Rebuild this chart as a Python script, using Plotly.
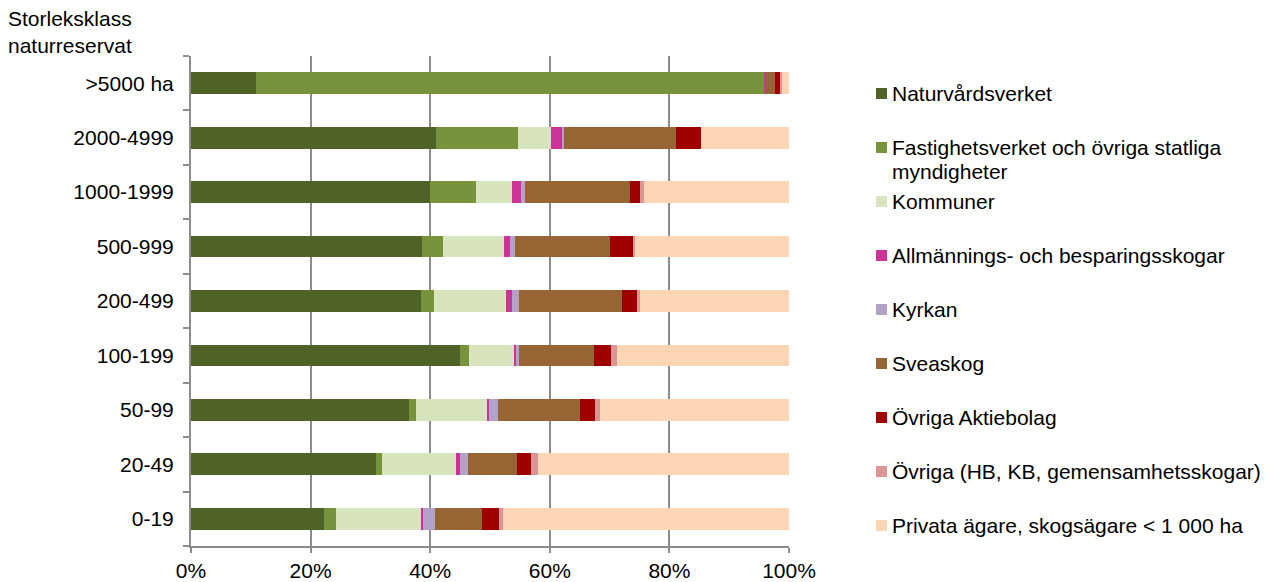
import plotly.graph_objects as go

categories = ["0-19", "20-49", "50-99", "100-199", "200-499", "500-999",
              "1000-1999", "2000-4999", ">5000 ha"]

series_names = [
    "Naturvårdsverket",
    "Fastighetsverket och övriga statliga<br>myndigheter",
    "Kommuner",
    "Allmännings- och besparingsskogar",
    "Kyrkan",
    "Sveaskog",
    "Övriga Aktiebolag",
    "Övriga (HB, KB, gemensamhetsskogar)",
    "Privata ägare, skogsägare < 1 000 ha",
]

naturvardsverket = [22.3, 30.9, 36.4, 44.9, 38.4, 38.6, 39.9, 40.9, 10.8]
fastighetsverket = [2.0, 1.1, 1.2, 1.6, 2.2, 3.6, 7.7, 13.8, 85.1]
kommuner = [14.1, 12.3, 12.0, 7.6, 12.1, 10.1, 6.1, 5.5, 0.0]
allmannings = [0.4, 0.6, 0.2, 0.2, 1.0, 1.0, 1.4, 1.9, 0.3]
kyrkan = [2.0, 1.4, 1.5, 0.6, 1.2, 0.8, 0.7, 0.2, 0.0]
sveaskog = [7.9, 8.2, 13.8, 12.5, 17.2, 15.9, 17.6, 18.8, 1.4]
ovriga_ab = [2.8, 2.4, 2.4, 2.9, 2.5, 3.9, 1.7, 4.2, 0.9]
ovriga_hb = [0.6, 1.1, 0.9, 0.9, 0.4, 0.4, 0.6, 0.0, 0.3]
privata = [47.9, 42.0, 31.6, 28.8, 25.0, 25.7, 24.3, 14.7, 1.2]

series_values = [naturvardsverket, fastighetsverket, kommuner, allmannings, kyrkan,
                 sveaskog, ovriga_ab, ovriga_hb, privata]

colors = ["#4F6228", "#77933C", "#D7E4BD", "#CC3399", "#B3A2C7",
          "#976433", "#9E0000", "#D99694", "#FCD5B5"]

x_tickvals = [0, 20, 40, 60, 80, 100]
x_ticktext = ["0%", "20%", "40%", "60%", "80%", "100%"]

FONT = "Arial, Liberation Sans, sans-serif"
OFF = 8  # page body margin
W, H = 1283 - OFF, 582 - OFF
L, R, T, B = 191 - OFF, 789 - OFF, 56 - OFF, 546 - OFF

fig = go.Figure()
for name, vals, col in zip(series_names, series_values, colors):
    fig.add_trace(go.Bar(
        y=categories, x=vals, name=name, orientation="h",
        marker=dict(color=col, line=dict(width=0)),
        showlegend=False,
    ))

def px_x(p):
    return (p - OFF - L) / (R - L)

def px_y(p):
    return (B - (p - OFF)) / (B - T)

# manual legend (page pixel positions)
leg_y0 = 93.5
leg_step = 54.0
line_h = 24.5
for i, (name, col) in enumerate(zip(series_names, colors)):
    cy = leg_y0 + i * leg_step
    fig.add_shape(type="rect", xref="paper", yref="paper",
                  x0=px_x(876), x1=px_x(887), y0=px_y(cy + 5.5), y1=px_y(cy - 5.5),
                  fillcolor=col, line=dict(width=0))
    for j, line in enumerate(name.split("<br>")):
        fig.add_annotation(xref="paper", yref="paper", x=px_x(890), y=px_y(cy + j * line_h),
                           text=line, showarrow=False, xanchor="left", yanchor="middle",
                           font=dict(family=FONT, size=21, color="#000000"))

# y-axis title
fig.add_annotation(xref="paper", yref="paper", x=px_x(6), y=px_y(5),
                   text="Storleksklass<br>naturreservat", showarrow=False,
                   xanchor="left", yanchor="top", align="left",
                   font=dict(family=FONT, size=21, color="#000000"))

fig.update_layout(
    width=W, height=H,
    margin=dict(l=L, r=W - R, t=T, b=H - B, pad=0, autoexpand=False),
    barmode="stack", bargap=0.6,
    plot_bgcolor="white", paper_bgcolor="white",
    font=dict(family=FONT, size=21, color="#000000"),
    xaxis=dict(range=[0, 100], tickvals=x_tickvals, ticktext=x_ticktext,
               showgrid=True, gridcolor="#8C8C8C", gridwidth=2,
               showline=True, linecolor="#8C8C8C", linewidth=2,
               ticks="outside", ticklen=5, tickcolor="#8C8C8C", tickwidth=2,
               ticklabelstandoff=0, automargin=False,
               zeroline=False, fixedrange=True),
    yaxis=dict(categoryorder="array", categoryarray=categories,
               showgrid=False, showline=True, linecolor="#8C8C8C", linewidth=2,
               ticks="outside", tickson="boundaries", ticklen=6,
               tickcolor="#8C8C8C", tickwidth=2, ticklabelstandoff=11,
               automargin=False,
               zeroline=False, fixedrange=True),
)

fig.write_html("out.html")
